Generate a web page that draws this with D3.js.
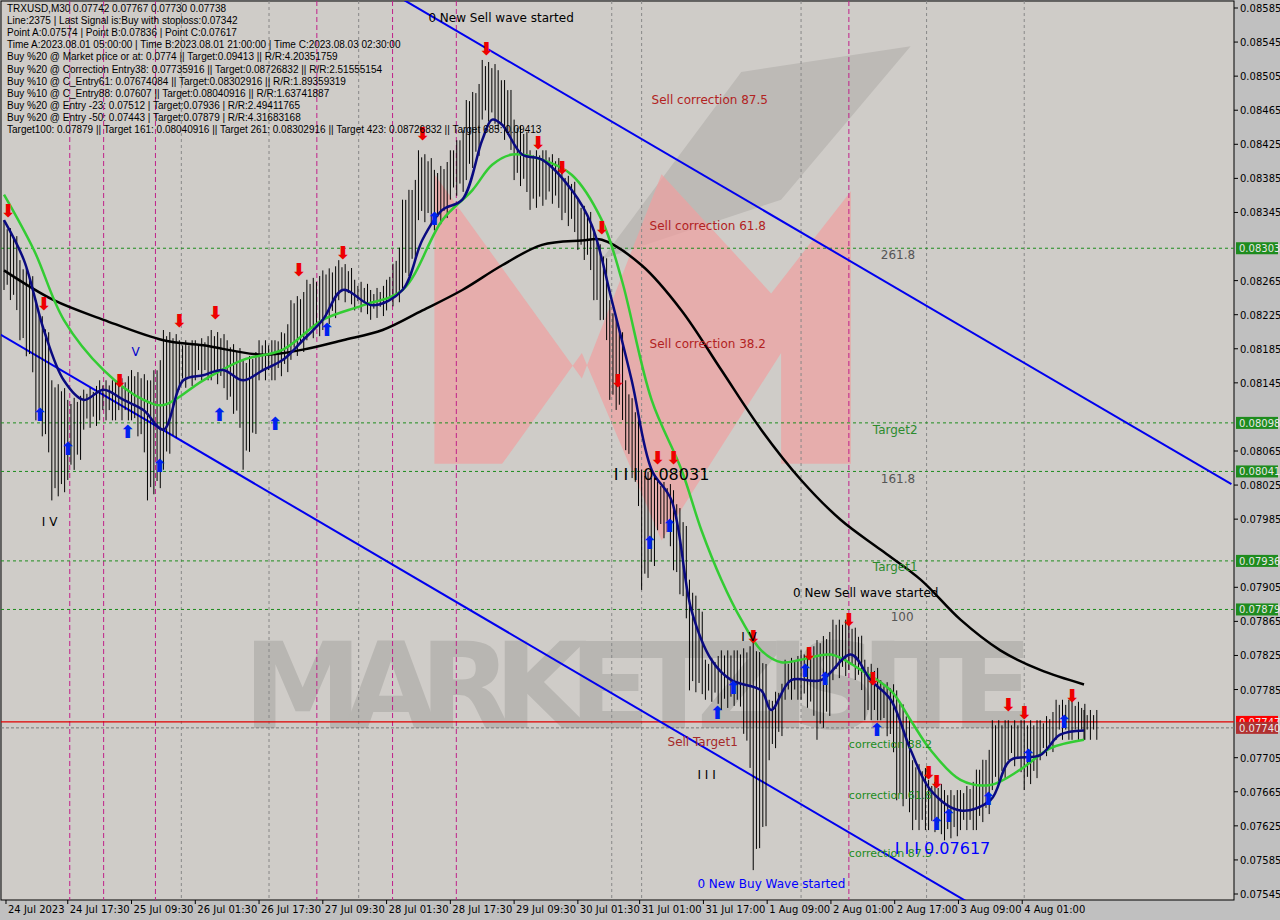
<!DOCTYPE html>
<html><head><meta charset="utf-8">
<script src="https://cdn.jsdelivr.net/npm/d3@7"></script>
<style>body{margin:0;background:#c0c0c0;}svg{display:block;font-family:"DejaVu Sans",sans-serif;}</style>
</head><body><svg id="c" width="1280" height="920"></svg>
<script>
const yTicks=[0.08585,0.08545,0.08505,0.08465,0.08425,0.08385,0.08345,0.08265,0.08225,0.08185,0.08145,0.08065,0.08025,0.07985,0.07905,0.07865,0.07825,0.07785,0.07705,0.07665,0.07625,0.07585,0.07545];
const xLabels=[[1,"24 Jul 2023"],[32,"24 Jul 17:30"],[64,"25 Jul 09:30"],[96,"26 Jul 01:30"],[128,"26 Jul 17:30"],[160,"27 Jul 09:30"],[192,"28 Jul 01:30"],[224,"28 Jul 17:30"],[256,"29 Jul 09:30"],[288,"30 Jul 01:30"],[319,"31 Jul 01:00"],[351,"31 Jul 17:00"],[383,"1 Aug 09:00"],[415,"2 Aug 01:00"],[447,"2 Aug 17:00"],[479,"3 Aug 09:00"],[511,"4 Aug 01:00"]];
const levels=[[0.08303,"#1e8c1e"],[0.08098,"#1e8c1e"],[0.08041,"#1e8c1e"],[0.07936,"#1e8c1e"],[0.07879,"#1e8c1e"]];
const bars=[[0,0.08336,0.08254],[8,0.08289,0.08195],[16,0.08242,0.08101],[24,0.08148,0.08007],[32,0.08125,0.08031],[40,0.08137,0.0809],[48,0.08148,0.08101],[56,0.08148,0.08101],[64,0.0816,0.08101],[72,0.08148,0.08007],[80,0.08207,0.08043],[88,0.08195,0.08137],[96,0.08195,0.08148],[104,0.08207,0.08148],[112,0.08195,0.08125],[120,0.08172,0.08043],[128,0.08195,0.08148],[136,0.08195,0.08148],[144,0.08242,0.08172],[152,0.08266,0.08195],[160,0.08277,0.08207],[168,0.08289,0.08242],[176,0.08266,0.0823],[184,0.08254,0.08219],[192,0.08266,0.0823],[200,0.0836,0.08254],[208,0.08418,0.08336],[216,0.08395,0.08324],[224,0.08418,0.0836],[232,0.08477,0.08383],[240,0.08524,0.08454],[248,0.08512,0.08442],[256,0.08454,0.08383],[264,0.08418,0.08348],[272,0.08418,0.0836],[280,0.08395,0.08336],[288,0.0836,0.08301],[296,0.08324,0.08242],[304,0.08242,0.08125],[312,0.08148,0.08066],[320,0.08043,0.07902],[328,0.08031,0.07972],[336,0.08019,0.07925],[344,0.07914,0.07784],[352,0.0782,0.07773],[360,0.07831,0.07761],[368,0.07831,0.07773],[376,0.07843,0.07573],[384,0.07773,0.07702],[392,0.0782,0.07773],[400,0.07831,0.07773],[408,0.07843,0.07726],[416,0.07867,0.07796],[424,0.07867,0.07808],[432,0.0782,0.07749],[440,0.07796,0.07749],[448,0.07784,0.07655],[456,0.07702,0.0762],[464,0.07679,0.0762],[472,0.07667,0.07608],[480,0.07667,0.0762],[488,0.07691,0.0762],[496,0.07749,0.07667],[504,0.07749,0.07702],[512,0.07749,0.07667],[520,0.07749,0.07702],[528,0.07773,0.07726],[536,0.07773,0.07726],[542,0.07761,0.07726]];
const maBlack=[[0,0.08277],[25,0.08242],[50,0.08219],[80,0.08195],[100,0.08189],[130,0.08178],[150,0.08184],[170,0.08195],[190,0.08207],[210,0.0823],[230,0.08254],[250,0.08283],[270,0.08307],[290,0.08312],[300,0.08313],[320,0.08283],[340,0.0823],[360,0.0816],[380,0.0809],[400,0.08031],[420,0.07984],[440,0.07949],[460,0.07914],[480,0.07867],[500,0.07831],[520,0.07808],[542,0.07791]];
const maGreen=[[0,0.08366],[15,0.08301],[30,0.08219],[50,0.0816],[70,0.08125],[80,0.08119],[100,0.08148],[120,0.08172],[140,0.08184],[160,0.08219],[180,0.08236],[200,0.08254],[220,0.08336],[235,0.08371],[245,0.08401],[255,0.08413],[270,0.08407],[285,0.08389],[300,0.08336],[310,0.08266],[325,0.08125],[340,0.08043],[350,0.07972],[360,0.07914],[370,0.07867],[380,0.07831],[390,0.07817],[400,0.0782],[415,0.07826],[430,0.07808],[445,0.07784],[455,0.07749],[465,0.07714],[480,0.07679],[495,0.07673],[510,0.07691],[525,0.07716],[542,0.07726]];
const maNavy=[[0,0.08336],[10,0.08289],[20,0.08207],[30,0.08148],[40,0.08125],[50,0.08137],[60,0.08125],[70,0.08113],[80,0.0809],[90,0.08148],[100,0.08154],[110,0.0816],[120,0.08148],[130,0.0816],[140,0.08172],[150,0.08195],[160,0.08219],[170,0.08254],[185,0.08236],[200,0.08254],[210,0.08313],[220,0.08348],[230,0.0836],[240,0.0843],[245,0.08454],[250,0.08448],[260,0.08413],[270,0.08407],[285,0.08371],[295,0.0833],[305,0.08242],[315,0.08148],[325,0.08043],[335,0.08007],[345,0.07878],[355,0.0782],[365,0.07796],[380,0.07784],[385,0.07761],[395,0.07796],[410,0.07796],[425,0.07826],[435,0.07796],[445,0.07773],[455,0.07714],[465,0.07667],[480,0.07643],[495,0.07655],[505,0.07702],[520,0.07708],[530,0.07732],[542,0.07737]];
const channels=[[[201,0.08594],[616,0.08026]],[[-2,0.08202],[484,0.07535]]];
const redArrows=[[2,0.0834],[20,0.0823],[58,0.0814],[88,0.0821],[106,0.0822],[148,0.0827],[170,0.0829],[210,0.0843],[242,0.0853],[268,0.0842],[280,0.0839],[300,0.0832],[308,0.0814],[328,0.0805],[336,0.0805],[376,0.0784],[404,0.0782],[424,0.0786],[436,0.0779],[464,0.0768],[468,0.0767],[504,0.0776],[512,0.0775],[536,0.0777]];
const blueArrows=[[18,0.0810],[32,0.0806],[62,0.0808],[78,0.0804],[108,0.0810],[136,0.0809],[162,0.0820],[216,0.0833],[324,0.0795],[334,0.0797],[358,0.0775],[366,0.0778],[402,0.0780],[412,0.0779],[438,0.0773],[468,0.0762],[474,0.0763],[494,0.0765],[514,0.0770],[532,0.0774]];
const labels=[[213,0.08568,"0 New Sell wave started","#000",12],[325,0.08472,"Sell correction 87.5","#b22222",12],[324,0.08325,"Sell correction 61.8","#b22222",12],[324,0.08186,"Sell correction 38.2","#b22222",12],[440,0.08290,"261.8","#555",12],[436,0.08085,"Target2","#2e8b2e",12],[440,0.08027,"161.8","#555",12],[436,0.07924,"Target1","#2e8b2e",12],[445,0.07866,"100","#555",12],[396,0.07894,"0 New Sell wave started","#000",12],[306,0.08031,"I I I 0.08031","#000",16],[333,0.07719,"Sell Target1","#a52a2a",12],[424,0.07716,"correction 38.2","#228b22",11],[424,0.07656,"correction 61.8","#228b22",11],[424,0.07589,"correction 87.5","#228b22",11],[447,0.07592,"I I I 0.07617","#0000ff",16],[348,0.07552,"0 New Buy Wave started","#0000ff",12],[348,0.07680,"I I I","#000",12],[19,0.07977,"I V","#000",12],[370,0.07842,"I V","#000",12],[64,0.08177,"V","#0000cc",12]];
const info=["    TRXUSD,M30  0.07742 0.07767 0.07730 0.07738","Line:2375 | Last Signal is:Buy with stoploss:0.07342","Point A:0.07574 | Point B:0.07836 | Point C:0.07617","Time A:2023.08.01 05:00:00 | Time B:2023.08.01 21:00:00 | Time C:2023.08.03 02:30:00","Buy %20 @ Market price or at: 0.0774 || Target:0.09413 || R/R:4.20351759","Buy %20 @ Correction Entry38: 0.07735916 || Target:0.08726832 || R/R:2.51555154","Buy %10 @ C_Entry61: 0.07674084 || Target:0.08302916 || R/R:1.89359319","Buy %10 @ C_Entry88: 0.07607 || Target:0.08040916 || R/R:1.63741887","Buy %20 @ Entry -23: 0.07512 | Target:0.07936 | R/R:2.49411765","Buy %20 @ Entry -50: 0.07443 | Target:0.07879 | R/R:4.31683168","Target100: 0.07879 || Target 161: 0.08040916 || Target 261: 0.08302916 || Target 423: 0.08726832 || Target 685: 0.09413"];
const grayV=[89,133,178,305,320,400,463,512], magV=[33,50,76,157,195,227,424];

const svg=d3.select("#c");
const L=1,R=1234,T=1,B=900;
const x=d3.scaleLinear().domain([0,542]).range([4,1084]);
const y=d3.scaleLinear().domain([0.07545,0.08585]).range([894,8]);
svg.append("rect").attr("width",1280).attr("height",920).attr("fill","#c0c0c0");
svg.append("rect").attr("x",L).attr("y",T).attr("width",R-L).attr("height",B-T).attr("fill","#cfccc8").attr("stroke","#000");
svg.append("clipPath").attr("id","cl").append("rect").attr("x",L).attr("y",T).attr("width",R-L).attr("height",B-T);
const g=svg.append("g").attr("clip-path","url(#cl)");
g.append("path").attr("d",`M${x(300)},${y(0.0829)} L${x(370)},${y(0.0851)} L${x(455)},${y(0.0854)} L${x(390)},${y(0.0836)} Z`).attr("fill","#bdbab6");
g.append("path").attr("d",`M${x(216)},${y(0.0805)} V${y(0.0839)} L${x(290)},${y(0.0815)} L${x(330)},${y(0.0839)} L${x(385)},${y(0.0825)} L${x(425)},${y(0.0837)} V${y(0.0805)} H${x(390)} V${y(0.0818)} L${x(330)},${y(0.0796)} L${x(290)},${y(0.0818)} L${x(250)},${y(0.0805)} Z`).attr("fill","#f0a0a0").attr("opacity",0.7);
g.append("text").attr("x",x(120)).attr("y",y(0.0774)).attr("font-size",120).attr("font-weight","bold").attr("fill","#b8b6b2").attr("textLength",790).text("MARKETZISITE");
grayV.forEach(i=>g.append("line").attr("x1",x(i)).attr("x2",x(i)).attr("y1",T).attr("y2",B).attr("stroke","#888").attr("stroke-dasharray","3,3"));
magV.forEach(i=>g.append("line").attr("x1",x(i)).attr("x2",x(i)).attr("y1",T).attr("y2",B).attr("stroke","#c0208a").attr("stroke-dasharray","5,3"));
levels.forEach(l=>g.append("line").attr("x1",L).attr("x2",R).attr("y1",y(l[0])).attr("y2",y(l[0])).attr("stroke",l[1]).attr("stroke-dasharray","3,3"));
g.append("line").attr("x1",L).attr("x2",R).attr("y1",y(0.07747)).attr("y2",y(0.07747)).attr("stroke","#e00000").attr("stroke-width",1.2);
g.append("line").attr("x1",L).attr("x2",R).attr("y1",y(0.0774)).attr("y2",y(0.0774)).attr("stroke","#777").attr("stroke-dasharray","3,2");
channels.forEach(c=>g.append("line").attr("x1",x(c[0][0])).attr("y1",y(c[0][1])).attr("x2",x(c[1][0])).attr("y2",y(c[1][1])).attr("stroke","#0000ee").attr("stroke-width",2));
bars.forEach((b,k)=>{const n=(k<bars.length-1)?bars[k+1]:b;
 for(let j=0;j<5;j++){const t=j/5;const hi=b[1]+(n[1]-b[1])*t*0.5, lo=b[2]+(n[2]-b[2])*t*0.5;const xx=x(b[0])+j*3.2;
  const off=(j%2)?0.00012:0; g.append("line").attr("x1",xx).attr("x2",xx).attr("y1",y(hi-off*0.5)).attr("y2",y(lo+off)).attr("stroke","#000").attr("stroke-width",1);}});
const line=d3.line().x(d=>x(d[0])).y(d=>y(d[1])).curve(d3.curveCatmullRom);
g.append("path").attr("d",line(maBlack)).attr("fill","none").attr("stroke","#000").attr("stroke-width",2.5);
g.append("path").attr("d",line(maGreen)).attr("fill","none").attr("stroke","#33cc33").attr("stroke-width",2.5);
g.append("path").attr("d",line(maNavy)).attr("fill","none").attr("stroke","#0a0a80").attr("stroke-width",2.5);
redArrows.forEach(a=>g.append("text").attr("x",x(a[0])).attr("y",y(a[1])).attr("text-anchor","middle").attr("font-size",18).attr("font-weight","bold").attr("fill","#ee0000").text("⬇"));
blueArrows.forEach(a=>g.append("text").attr("x",x(a[0])).attr("y",y(a[1])).attr("text-anchor","middle").attr("font-size",18).attr("font-weight","bold").attr("fill","#0022ee").text("⬆"));
labels.forEach(l=>g.append("text").attr("x",x(l[0])).attr("y",y(l[1])).attr("font-size",l[4]).attr("fill",l[3]).text(l[2]));
info.forEach((t,i)=>g.append("text").attr("x",7).attr("y",12+i*12.1).attr("font-size",10).attr("font-family","Liberation Sans, sans-serif").attr("fill","#000").text(t));
yTicks.forEach(v=>{svg.append("line").attr("x1",R).attr("x2",R+4).attr("y1",y(v)).attr("y2",y(v)).attr("stroke","#000");
 svg.append("text").attr("x",R+6).attr("y",y(v)+4).attr("font-size",10).attr("fill","#000").text(v.toFixed(5));});
[[0.08303,"#1e8c1e"],[0.08098,"#1e8c1e"],[0.08041,"#1e8c1e"],[0.07936,"#1e8c1e"],[0.07879,"#1e8c1e"],[0.07747,"#ff0000"],[0.0774,"#b03030"]].forEach(t=>{
 svg.append("rect").attr("x",R+2).attr("y",y(t[0])-6).attr("width",42).attr("height",12).attr("fill",t[1]);
 svg.append("text").attr("x",R+5).attr("y",y(t[0])+4).attr("font-size",10).attr("fill","#e8e8e8").text(t[0].toFixed(5));});
xLabels.forEach(l=>{svg.append("line").attr("x1",x(l[0])).attr("x2",x(l[0])).attr("y1",B).attr("y2",B+4).attr("stroke","#000");
 svg.append("text").attr("x",x(l[0])+2).attr("y",B+13).attr("font-size",10).attr("fill","#000").text(l[1]);});
</script></body></html>
